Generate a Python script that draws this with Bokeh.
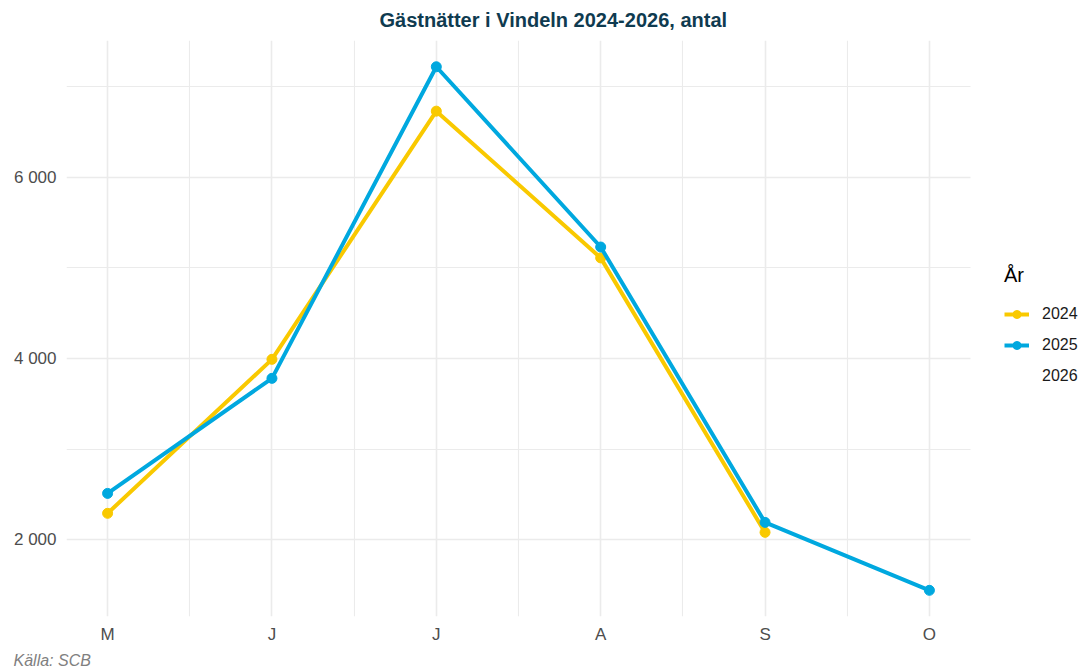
import numpy as np
from bokeh.plotting import figure
from bokeh.models import (FixedTicker, Legend, LegendItem, Title, ColumnDataSource,
                          BoxAnnotation)
from bokeh.embed import file_html
from bokeh.resources import INLINE

# ---- data ----
months = [5, 6, 7, 8, 9, 10]
month_labels = ["M", "J", "J", "A", "S", "O"]
v2024 = [2290, 3990, 6730, 5110, 2080, np.nan]
v2025 = [2510, 3780, 7220, 5230, 2190, 1440]
years = ["2024", "2025", "2026"]
y_ticks = [2000, 4000, 6000]
y_tick_labels = ["2 000", "4 000", "6 000"]

title_text = "Gästnätter i Vindeln 2024-2026, antal"
caption_text = "Källa: SCB"

C24 = "#F9C900"
C25 = "#00A8DF"
GRID = "#EBEBEB"
FONT = "Liberation Sans"

# layout (pixels)
W, H = 1086, 671
LEFT, TOP, BOTTOM = 66, 40, 54
PANEL_W = 904                     # width of the data panel
X0, X1 = 4.75, 10.25              # data panel x extent
frame_w = W - LEFT
x_end = X0 + (X1 - X0) * frame_w / PANEL_W   # frame extends under the legend

p = figure(width=W, height=H,
           x_range=(X0, x_end), y_range=(1151, 7510),
           output_backend="svg", toolbar_location=None,
           min_border_left=LEFT, min_border_top=TOP, min_border_bottom=BOTTOM,
           min_border_right=0)
p.outline_line_color = None
p.background_fill_color = "white"

p.xaxis.ticker = FixedTicker(ticks=months, minor_ticks=[5.5, 6.5, 7.5, 8.5, 9.5])
p.xaxis.major_label_overrides = {m: l for m, l in zip(months, month_labels)}
p.yaxis.ticker = FixedTicker(ticks=y_ticks, minor_ticks=[3000, 5000, 7000])
p.yaxis.major_label_overrides = {t: l for t, l in zip(y_ticks, y_tick_labels)}

for ax in (p.xaxis, p.yaxis):
    ax.axis_line_color = None
    ax.major_tick_line_color = None
    ax.minor_tick_line_color = None
    ax.major_tick_out = 0
    ax.minor_tick_out = 0
    ax.major_tick_in = 0
    ax.major_label_text_font = FONT
    ax.major_label_text_font_size = "17px"
    ax.major_label_text_color = "#4D4D4D"
p.yaxis.major_label_standoff = 10
p.xaxis.major_label_standoff = 8

for g in (p.xgrid, p.ygrid):
    g.grid_line_color = GRID
    g.grid_line_width = 1.6
    g.minor_grid_line_color = GRID
    g.minor_grid_line_width = 1.1

# white cover for the part of the frame that holds the legend
p.add_layout(BoxAnnotation(left=X1, fill_color="white", fill_alpha=1.0,
                           line_color=None, level="underlay"))

src = ColumnDataSource(dict(x=months, y24=v2024, y25=v2025))
l24 = p.line("x", "y24", source=src, line_color=C24, line_width=4)
s24 = p.scatter("x", "y24", source=src, size=10, fill_color=C24, line_color=C24)
l25 = p.line("x", "y25", source=src, line_color=C25, line_width=4)
s25 = p.scatter("x", "y25", source=src, size=10, fill_color=C25, line_color=C25)
l26 = p.line(x=[5], y=[2000], line_color="white", line_alpha=0)

legend = Legend(items=[
    LegendItem(label=years[0], renderers=[l24, s24]),
    LegendItem(label=years[1], renderers=[l25, s25]),
    LegendItem(label=years[2], renderers=[l26]),
], location=(938, 230))
legend.title = "År"
legend.title_text_font = FONT
legend.title_text_font_size = "20px"
legend.title_text_font_style = "normal"
legend.title_text_color = "#000000"
legend.title_standoff = 17
legend.label_text_font = FONT
legend.label_text_font_size = "16px"
legend.label_text_color = "#1A1A1A"
legend.glyph_width = 25
legend.glyph_height = 20
legend.label_height = 20
legend.label_standoff = 13
legend.spacing = 11
legend.padding = 6
legend.margin = 0
legend.border_line_color = None
legend.background_fill_alpha = 0
p.add_layout(legend)

p.add_layout(Title(text=title_text, text_font=FONT, text_font_size="20px",
                   text_font_style="bold", text_color="#0F3B50",
                   align="left", offset=313, standoff=15,
                   vertical_align="top", text_baseline="top"), "above")
p.add_layout(Title(text=caption_text, text_font=FONT, text_font_size="16px",
                   text_font_style="italic", text_color="#808080",
                   align="left", offset=-53, standoff=6), "below")

open("out.html", "w").write(file_html(p, INLINE))
